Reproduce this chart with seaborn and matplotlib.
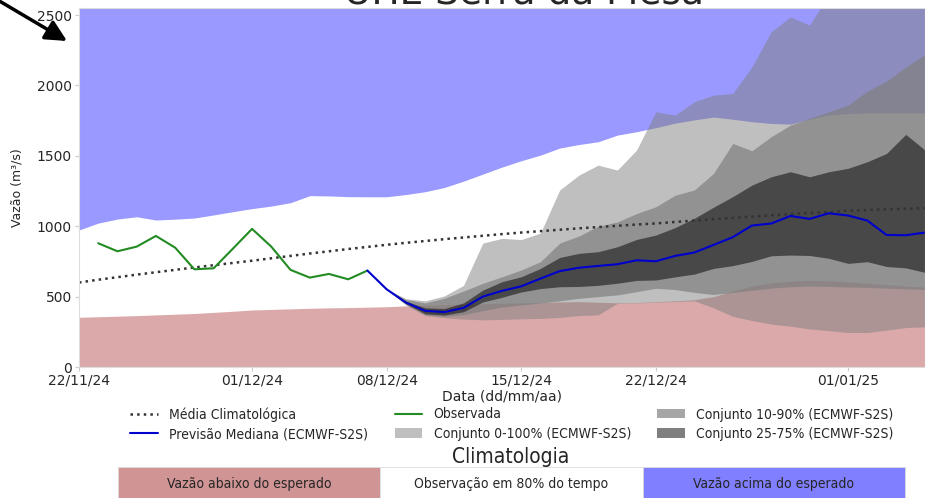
import pandas as pd
import seaborn as sns
import matplotlib.pyplot as plt
import matplotlib.dates as mdates

# ========== DADOS ==========
dias = pd.date_range('2024-11-22', '2025-01-05', freq='D')
dias_obs = pd.date_range('2024-11-23', '2024-12-07', freq='D')
dias_prev = pd.date_range('2024-12-07', '2025-01-05', freq='D')
dias_ens = pd.date_range('2024-12-08', '2025-01-05', freq='D')

# climatologia (percentis 10 e 90, media)
clim_p10 = [353, 357, 361, 365, 370, 375, 380, 388, 396, 405, 409, 413, 417, 420, 422,
            425, 428, 434, 440, 443, 446, 450, 453, 456, 458, 462, 464, 460, 456, 458,
            464, 470, 478, 500, 540, 575, 598, 610, 615, 612, 605, 595, 585, 575, 568]
clim_p90 = [973, 1022, 1051, 1067, 1044, 1050, 1058, 1080, 1103, 1125, 1143, 1167, 1217, 1215, 1210,
            1209, 1209, 1225, 1245, 1275, 1320, 1370, 1420, 1465, 1505, 1555, 1580, 1600, 1647, 1671,
            1700, 1732, 1755, 1775, 1760, 1742, 1730, 1725, 1760, 1790, 1800, 1805, 1805, 1805, 1805]
clim_media = [600, 620, 638, 656, 673, 690, 707, 723, 739, 755, 772, 789, 806, 822, 838,
              853, 868, 882, 895, 908, 920, 932, 944, 955, 965, 975, 985, 994, 1003, 1012,
              1020, 1030, 1040, 1050, 1059, 1068, 1077, 1086, 1094, 1102, 1110, 1115, 1120, 1124, 1128]

observada = [879, 822, 855, 931, 848, 694, 701, 840, 981, 855, 690, 635, 661, 623, 685]

mediana = [685, 552, 458, 399, 390, 420, 500, 541, 573, 628, 681, 705, 718, 730, 758,
           751, 789, 813, 867, 922, 1005, 1019, 1073, 1052, 1092, 1076, 1040, 938, 936, 955]

# conjunto ECMWF-S2S (percentis)
ens_min = [552, 440, 365, 350, 340, 335, 338, 342, 345, 352, 365, 370, 452, 455, 460,
           465, 470, 420, 360, 330, 305, 290, 270, 258, 245, 245, 262, 280, 285]
ens_p10 = [552, 445, 372, 360, 372, 400, 425, 440, 455, 470, 488, 500, 512, 535, 559,
           550, 530, 515, 530, 545, 560, 570, 575, 572, 568, 565, 560, 555, 550]
ens_p25 = [552, 450, 378, 369, 393, 462, 495, 533, 557, 570, 572, 580, 595, 615, 618,
           640, 660, 700, 720, 750, 790, 795, 792, 772, 736, 748, 714, 704, 672]
ens_p75 = [552, 468, 420, 415, 455, 546, 606, 641, 700, 778, 807, 819, 854, 906, 937,
           990, 1056, 1135, 1210, 1292, 1351, 1387, 1351, 1387, 1411, 1458, 1517, 1652, 1541]
ens_p90 = [552, 480, 455, 488, 540, 594, 641, 689, 748, 880, 930, 1000, 1030, 1090, 1138,
           1220, 1257, 1375, 1588, 1536, 1636, 1718, 1766, 1813, 1860, 1960, 2030, 2130, 2220]
ens_max = [552, 485, 470, 505, 580, 880, 914, 905, 951, 1257, 1363, 1434, 1399, 1541, 1813,
           1789, 1884, 1931, 1943, 2132, 2381, 2487, 2428, 2650, 2700, 2750, 2800, 2850, 2900]

y_max = 2550
ticks_x = ['2024-11-22', '2024-12-01', '2024-12-08', '2024-12-15', '2024-12-22', '2025-01-01']

legenda_clim = ['Vazão abaixo do esperado', 'Observação em 80% do tempo', 'Vazão acima do esperado']

# ========== FIGURA ==========
sns.set_style('white')
plt.rcParams['font.family'] = ['DejaVu Sans']

fig = plt.figure(figsize=(9.25, 4.98), dpi=100)
ax = fig.add_axes([79/925, 131/498, 846/925, 359/498])

ax.fill_between(dias, 0, clim_p10, color='brown', alpha=0.4, lw=0)
ax.fill_between(dias, clim_p90, y_max, color='blue', alpha=0.4, lw=0)

ax.fill_between(dias_ens, ens_min, ens_max, color='gray', alpha=0.5, lw=0,
                label='Conjunto 0-100% (ECMWF-S2S)')
ax.fill_between(dias_ens, ens_p10, ens_p90, color='gray', alpha=0.7, lw=0,
                label='Conjunto 10-90% (ECMWF-S2S)')
ax.fill_between(dias_ens, ens_p25, ens_p75, color='black', alpha=0.5, lw=0,
                label='Conjunto 25-75% (ECMWF-S2S)')

sns.lineplot(x=dias, y=clim_media, ax=ax, color='#333333', linestyle=':', lw=1.8,
             label='Média Climatológica')
sns.lineplot(x=dias_obs, y=observada, ax=ax, color='#228b22', lw=1.5, label='Observada')
sns.lineplot(x=dias_prev, y=mediana, ax=ax, color='#0000cd', lw=1.5,
             label='Previsão Mediana (ECMWF-S2S)')

ax.set_xlim(dias[0], dias[-1])
ax.set_ylim(0, y_max)
ax.set_xticks(pd.to_datetime(ticks_x))
ax.xaxis.set_major_formatter(mdates.DateFormatter('%d/%m/%y'))
ax.set_yticks([0, 500, 1000, 1500, 2000, 2500])
ax.tick_params(axis='both', labelsize=10, colors='#cccccc', labelcolor='#262626',
               length=3, pad=2, bottom=True, left=True)
for s in ax.spines.values():
    s.set_color('#dddddd')
    s.set_linewidth(0.8)
ax.set_xlabel('Data (dd/mm/aa)', fontsize=10, labelpad=1, color='#262626')
ax.set_ylabel('Vazão (m³/s)', fontsize=9, labelpad=10, color='#262626')

# legenda
handles, labels = ax.get_legend_handles_labels()
h = dict(zip(labels, handles))
ordem = ['Média Climatológica', 'Previsão Mediana (ECMWF-S2S)', 'Observada',
         'Conjunto 0-100% (ECMWF-S2S)', 'Conjunto 10-90% (ECMWF-S2S)', 'Conjunto 25-75% (ECMWF-S2S)']
fonte = {'size': 10, 'stretch': 'condensed'}
ax.legend([h[o] for o in ordem], ordem, ncol=3, loc='upper center',
          bbox_to_anchor=(512/925, 1 - 407/498), bbox_transform=fig.transFigure,
          frameon=False, prop=fonte, labelspacing=0.4, columnspacing=1.9,
          handlelength=2.0, borderaxespad=0, borderpad=0)

# titulo (cortado no topo)
fig.text(524/925, 1 - 3/498, 'UHE Serra da Mesa', ha='center', va='baseline', fontsize=27)

# climatologia
fig.text(511/925, 1 - 457/498, 'Climatologia', ha='center', va='center', fontsize=15,
         fontstretch='condensed')
tab_ax = fig.add_axes([118/925, -3/498, 787/925, 34/498])
tab_ax.axis('off')
tab = tab_ax.table(cellText=[legenda_clim],
                   cellColours=[[(0.647, 0.165, 0.165, 0.5), 'white', (0, 0, 1, 0.5)]],
                   cellLoc='center', bbox=[0, 0, 1, 1])
tab.auto_set_font_size(False)
for cell in tab.get_celld().values():
    cell.set_edgecolor('#dddddd')
    cell.set_linewidth(0.6)
    cell.get_text().set_fontsize(10)
    cell.get_text().set_fontstretch('condensed')
    cell.get_text().set_color('#262626')

# seta
fig.add_artist(plt.Annotation('', xy=(67, 498 - 41), xytext=(-4, 498 + 1),
                              xycoords='figure pixels', textcoords='figure pixels',
                              arrowprops=dict(arrowstyle='-|>', color='black', lw=2.5,
                                              mutation_scale=32, shrinkA=0, shrinkB=0)))

plt.savefig('out.png', dpi=100)
